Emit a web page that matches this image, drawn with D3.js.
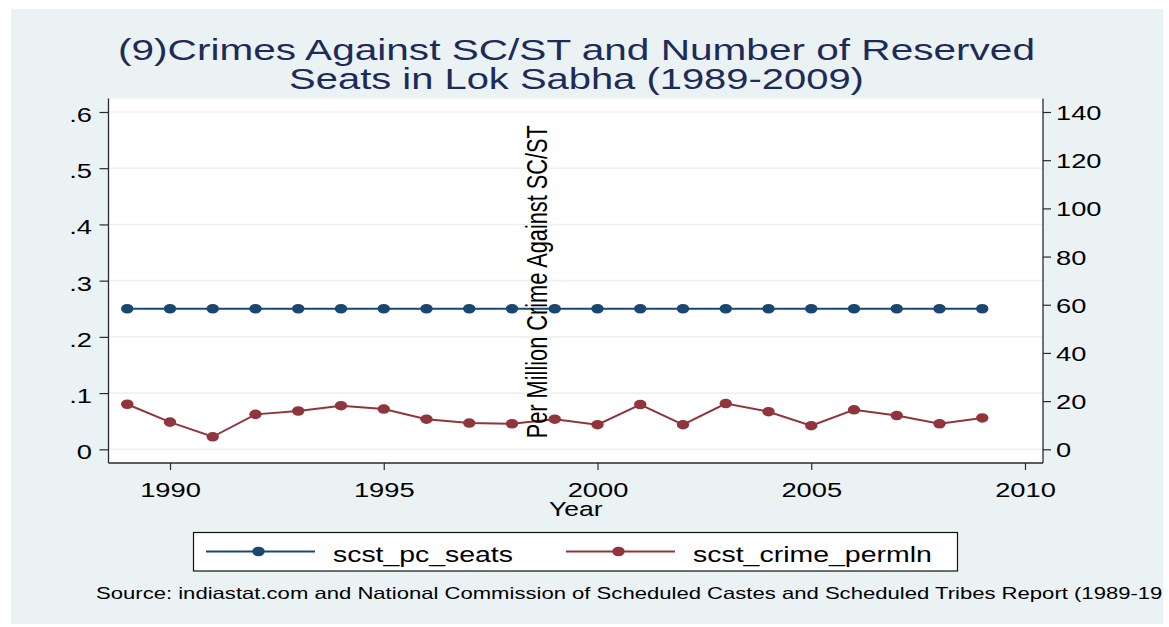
<!DOCTYPE html>
<html><head><meta charset="utf-8">
<script src="https://cdn.jsdelivr.net/npm/d3@7"></script>
<style>
html,body{margin:0;padding:0;background:#fff;overflow:hidden}
svg{display:block}
text{font-family:"Liberation Sans",Arial,Helvetica,sans-serif}
</style>
</head><body>
<svg id="c" width="1169" height="627"></svg>
<script>
// ---- data ----
const years = [1989,1990,1991,1992,1993,1994,1995,1996,1997,1998,1999,2000,2001,2002,2003,2004,2005,2006,2007,2008,2009];
const seatsShare = [0.25,0.25,0.25,0.25,0.25,0.25,0.25,0.25,0.25,0.25,0.25,0.25,0.25,0.25,0.25,0.25,0.25,0.25,0.25,0.25,0.25];
const crimePerMillion = [18.7,11.3,5.2,14.5,15.9,18.1,16.7,12.5,10.9,10.6,12.5,10.2,18.6,10.2,19.0,15.6,9.8,16.4,14.0,10.6,13.0];
const leftTicks = [0,0.1,0.2,0.3,0.4,0.5,0.6];
const leftTickLabels = ["0",".1",".2",".3",".4",".5",".6"];
const rightTicks = [0,20,40,60,80,100,120,140];
const xTicks = [1990,1995,2000,2005,2010];
const seriesNames = ["scst_pc_seats","scst_crime_permln"];
const titleLines = ["(9)Crimes Against SC/ST and Number of Reserved","Seats in Lok Sabha (1989-2009)"];
const xTitle = "Year";
const yRightTitle = "Per Million Crime Against SC/ST";
// the note is cut at the right edge in the original picture
const sourceNote = "Source: indiastat.com and National Commission of Scheduled Castes and Scheduled Tribes Report (1989-19";

// ---- styles / layout ----
const BG = "#eaf2f3", BLUE = "#1a476f", RED = "#90353b", TITLE = "#1e2b58", AX = "#2a2a2a";
const plot = {l:108.5, r:1043, t:98.5, b:463};
const SX = 1.4; // horizontal stretch of the source image

const svg = d3.select("#c");
svg.append("rect").attr("width",1169).attr("height",627).attr("fill","#fff");
svg.append("rect").attr("x",11).attr("y",9).attr("width",1152).attr("height",615).attr("fill",BG);
svg.append("rect").attr("x",plot.l).attr("y",plot.t).attr("width",plot.r-plot.l).attr("height",plot.b-plot.t).attr("fill","#fff");

const x = d3.scaleLinear().domain([1990,2010]).range([170,1025]);
const yL = d3.scaleLinear().domain([0,0.6]).range([449.3,112]);
const yR = d3.scaleLinear().domain([0,140]).range([449.3,112]);

// gridlines
svg.append("g").selectAll("line").data(leftTicks).join("line")
  .attr("x1",plot.l).attr("x2",plot.r)
  .attr("y1",d=>yL(d)).attr("y2",d=>yL(d))
  .attr("stroke",BG).attr("stroke-width",1.6);

function styleAxis(g, dx, dy, sx){
  g.select(".domain").remove();
  g.selectAll(".tick line").attr("stroke",AX).attr("stroke-width",1.2);
  g.selectAll(".tick text").each(function(){
    const t = d3.select(this);
    const xx = +t.attr("x") || 0;
    const yy = +t.attr("y") || 0;
    t.attr("x",0).attr("y",0).attr("dy",null)
     .attr("transform",`translate(${dx!==null?dx:xx},${dy!==null?dy:yy}) scale(${sx},1)`)
     .attr("font-size",19.5).attr("fill","#000")
     .style("font-family",'"Liberation Sans",Arial,sans-serif');
  });
}

const gL = svg.append("g").attr("transform",`translate(${plot.l},0)`)
  .call(d3.axisLeft(yL).tickValues(leftTicks).tickFormat((d,i)=>leftTickLabels[i]).tickSize(9).tickPadding(7.5));
styleAxis(gL, -16.5, 9.5, SX);

const gR = svg.append("g").attr("transform",`translate(${plot.r},0)`)
  .call(d3.axisRight(yR).tickValues(rightTicks).tickFormat(d3.format("d")).tickSize(8).tickPadding(6));
styleAxis(gR, 13, 7.5, SX);

const gB = svg.append("g").attr("transform",`translate(0,${plot.b})`)
  .call(d3.axisBottom(x).tickValues(xTicks).tickFormat(d3.format("d")).tickSize(7));
styleAxis(gB, 0, 34, SX);

// axis lines
svg.append("line").attr("x1",plot.l).attr("x2",plot.l).attr("y1",plot.t).attr("y2",plot.b).attr("stroke",AX).attr("stroke-width",1.3);
svg.append("line").attr("x1",plot.r).attr("x2",plot.r).attr("y1",plot.t).attr("y2",plot.b).attr("stroke",AX).attr("stroke-width",1.3);
svg.append("line").attr("x1",plot.l).attr("x2",plot.r).attr("y1",plot.b).attr("y2",plot.b).attr("stroke",AX).attr("stroke-width",1.3);

// series
const series = [
  {name:seriesNames[0], vals:seatsShare, y:yL, color:BLUE},
  {name:seriesNames[1], vals:crimePerMillion, y:yR, color:RED}
];
series.forEach(s=>{
  const pts = years.map((yr,i)=>[x(yr), s.y(s.vals[i])]);
  svg.append("path").attr("d",d3.line()(pts)).attr("fill","none").attr("stroke",s.color).attr("stroke-width",2);
  svg.append("g").selectAll("ellipse").data(pts).join("ellipse")
    .attr("cx",d=>d[0]).attr("cy",d=>d[1]).attr("rx",6.2).attr("ry",4.8).attr("fill",s.color);
});

// helper: stretched text
function fitText(parent, str, px, py, anchor, fs, targetW, fill){
  const t = parent.append("text").text(str).attr("font-size",fs).attr("text-anchor",anchor).attr("fill",fill||"#000");
  const w = t.node().getComputedTextLength();
  const s = targetW / w;
  t.attr("transform",`translate(${px},${py}) scale(${s},1)`);
  return t;
}

// title
fitText(svg, titleLines[0], 576.5, 59.5, "middle", 29.5, 917, TITLE);
fitText(svg, titleLines[1], 576.5, 88.8, "middle", 29.5, 575, TITLE);

// x title
svg.append("text").text(xTitle).attr("font-size",19.5).attr("text-anchor","middle").attr("fill","#000")
  .attr("transform",`translate(575.75,516) scale(1.36,1)`);

// right-axis title (placed in plot, rotated)
{
  const t = svg.append("text").text(yRightTitle).attr("font-size",21.7).attr("text-anchor","middle").attr("fill","#000");
  const w = t.node().getComputedTextLength();
  t.attr("font-size",21.7*313/w);
  t.attr("transform",`translate(546.5,281.7) scale(1.38,1) rotate(-90)`);
}

// legend
const lg = svg.append("g");
lg.append("rect").attr("x",193.5).attr("y",532.5).attr("width",764).attr("height",38.5)
  .attr("fill","#fff").attr("stroke","#111").attr("stroke-width",1.2);
const legendItems = [
  {x0:206, x1:315, tx:333, tw:180},
  {x0:566, x1:675, tx:693, tw:239}
];
series.forEach((s,i)=>{
  const L = legendItems[i];
  lg.append("line").attr("x1",L.x0).attr("x2",L.x1).attr("y1",551.5).attr("y2",551.5).attr("stroke",s.color).attr("stroke-width",2);
  lg.append("ellipse").attr("cx",(L.x0+L.x1)/2-2).attr("cy",551.5).attr("rx",6.2).attr("ry",4.8).attr("fill",s.color);
  fitText(lg, s.name, L.tx, 561.5, "start", 22, L.tw, "#000");
});

// source note
fitText(svg, sourceNote, 96, 599, "start", 16.5, 1163 - 96, "#000");
</script>
</body></html>
